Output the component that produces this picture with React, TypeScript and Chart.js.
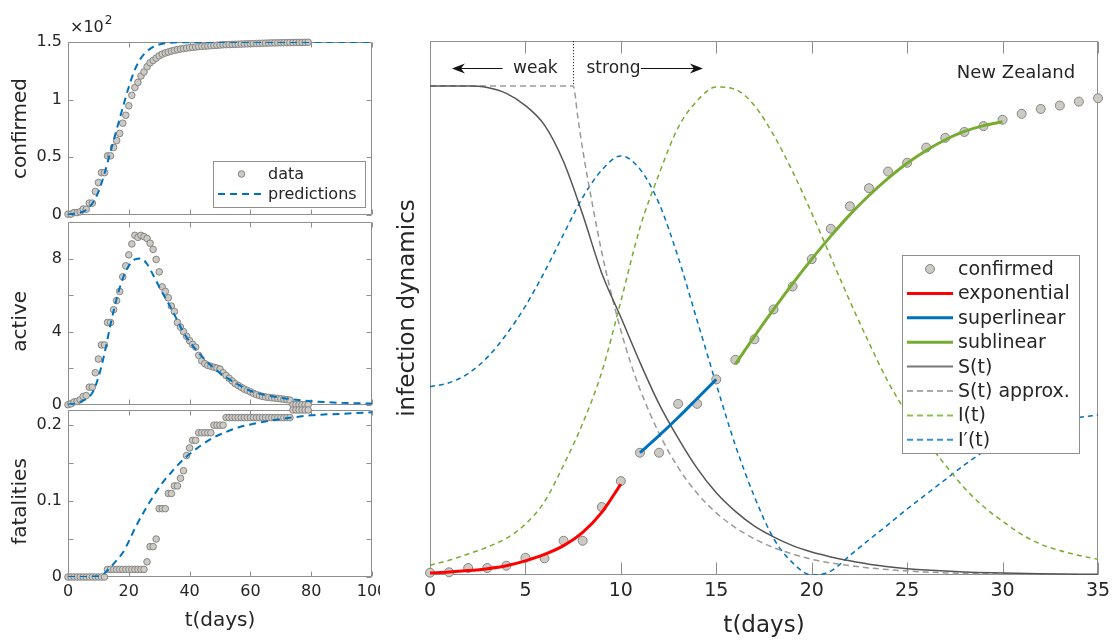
import React, { useEffect, useRef } from "react";
import { Chart, registerables } from "chart.js";
Chart.register(...registerables);

// ---------------- data ----------------
const leftDays = Array.from({ length: 80 }, (_, i) => i);
const leftXTicks = [0, 20, 40, 60, 80, 100];

const confirmedData = [
  0.007, 0.008, 0.021, 0.021, 0.028, 0.052, 0.05, 0.103, 0.103, 0.204, 0.281, 0.367, 0.367, 0.513, 0.513, 0.586,
  0.645, 0.707, 0.796, 0.865, 0.947, 1.038, 1.105, 1.15, 1.205, 1.24, 1.285, 1.32, 1.34, 1.36, 1.38, 1.395, 1.405,
  1.413, 1.421, 1.428, 1.434, 1.439, 1.443, 1.447, 1.451, 1.454, 1.457, 1.46, 1.462, 1.464, 1.466, 1.468, 1.47,
  1.472, 1.474, 1.476, 1.477, 1.478, 1.479, 1.48, 1.481, 1.482, 1.483, 1.484, 1.485, 1.486, 1.487, 1.488, 1.489,
  1.49, 1.491, 1.492, 1.492, 1.493, 1.493, 1.494, 1.494, 1.495, 1.495, 1.496, 1.496, 1.497, 1.497, 1.498,
];
const confirmedPredDays = [0, 2, 4, 6, 8, 10, 12, 14, 16, 18, 20, 22, 24, 26, 28, 30, 32, 35, 40, 50, 60, 80, 100];
const confirmedPred = [
  0.005, 0.01, 0.02, 0.045, 0.1, 0.2, 0.36, 0.55, 0.74, 0.93, 1.11, 1.26, 1.36, 1.42, 1.457, 1.478, 1.49, 1.496,
  1.499, 1.5, 1.5, 1.5, 1.5,
];
const confirmedTicks = [0, 0.5, 1, 1.5];
const confirmedTickText = ["0", "0.5", "1", "1.5"];

const activeData = [
  0, 0.05, 0.15, 0.18, 0.27, 0.45, 0.5, 0.96, 0.96, 1.75, 2.5, 3.27, 3.27, 4.5, 4.5, 5.2, 5.7, 6.2, 7.0, 7.6, 8.2,
  8.8, 9.27, 9.16, 9.27, 9.2, 9.1, 8.84, 8.5, 7.95, 7.27, 6.45, 6.2, 5.85, 5.4, 5.1, 4.5, 4.25, 4.0, 3.75, 3.5, 3.3,
  3.15, 2.7, 2.4, 2.25, 2.15, 2.1, 2.05, 2.0, 1.95, 1.75, 1.6, 1.45, 1.3, 1.15, 1.05, 0.95, 0.85, 0.78, 0.7, 0.62,
  0.55, 0.5, 0.45, 0.42, 0.4, 0.38, 0.36, 0.34, 0.32, 0.3, 0.28, 0.25, 0, 0, 0, 0, 0, 0,
];
const activePredDays = [0, 4, 8, 10, 12, 14, 16, 18, 20, 22, 24, 26, 28, 30, 32, 34, 36, 38, 40, 44, 48, 52, 56, 60, 65, 70, 75, 80, 90, 100];
const activePred = [
  0, 0.15, 0.65, 1.5, 2.8, 4.4, 5.8, 6.9, 7.6, 7.95, 8.0, 7.7, 7.1, 6.45, 5.85, 5.25, 4.6, 3.95, 3.45, 2.65, 2.0,
  1.5, 1.1, 0.75, 0.53, 0.38, 0.27, 0.19, 0.1, 0.06,
];
const activeTicks = [0, 2, 4, 6, 8];
const activeTickText = ["0", "", "4", "", "8"];

const fatalitiesData = [
  0, 0, 0, 0, 0, 0, 0, 0, 0, 0, 0, 0, 0,
  0.01, 0.01, 0.01, 0.01, 0.01, 0.01, 0.01, 0.01, 0.01, 0.01, 0.01, 0.01, 0.01,
  0.02, 0.04, 0.04, 0.05, 0.09, 0.09, 0.09, 0.11, 0.11, 0.12, 0.12, 0.13, 0.14, 0.16, 0.17, 0.18, 0.18,
  0.19, 0.19, 0.19, 0.19, 0.19, 0.2, 0.2, 0.2, 0.2,
  0.21, 0.21, 0.21, 0.21, 0.21, 0.21, 0.21, 0.21, 0.21, 0.21, 0.21, 0.21, 0.21, 0.21, 0.21, 0.21, 0.21, 0.21, 0.21,
  0.21, 0.21, 0.21,
  0.22, 0.22, 0.22, 0.22, 0.22, 0.22,
];
const fatalitiesPredDays = [0, 5, 10, 12, 14, 16, 18, 20, 22, 24, 26, 28, 30, 32, 34, 36, 38, 40, 44, 48, 52, 56, 60, 70, 80, 90, 100];
const fatalitiesPred = [
  0, 0, 0.001, 0.005, 0.013, 0.022, 0.032, 0.047, 0.064, 0.079, 0.093, 0.106, 0.118, 0.129, 0.138, 0.147, 0.155,
  0.162, 0.174, 0.184, 0.191, 0.197, 0.201, 0.208, 0.213, 0.215, 0.217,
];
const fatalitiesTicks = [0, 0.05, 0.1, 0.15, 0.2];
const fatalitiesTickText = ["0", "", "0.1", "", "0.2"];

// right panel (normalised units)
const rightDays = Array.from({ length: 36 }, (_, i) => i);
const rightXTicks = [0, 5, 10, 15, 20, 25, 30, 35];
const rightConfirmed = [
  0.0047, 0.0055, 0.0143, 0.0143, 0.019, 0.0353, 0.034, 0.07, 0.07, 0.139, 0.192, 0.25, 0.25, 0.35, 0.35, 0.4,
  0.44, 0.482, 0.543, 0.59, 0.646, 0.708, 0.754, 0.791, 0.825, 0.843, 0.874, 0.894, 0.906, 0.918, 0.931, 0.943,
  0.953, 0.96, 0.968, 0.975,
];
const expDays = [0, 1, 2, 3, 4, 5, 6, 7, 8, 9, 10];
const expFit = [0.004, 0.006, 0.009, 0.013, 0.019, 0.029, 0.042, 0.06, 0.087, 0.128, 0.186];
const superDays = [11, 12, 13, 14, 15];
const superFit = [0.25, 0.285, 0.322, 0.361, 0.4];
const subDays = [16, 17, 18, 19, 20, 21, 22, 23, 24, 25, 26, 27, 28, 29, 30];
const subFit = [0.431, 0.488, 0.543, 0.596, 0.646, 0.693, 0.737, 0.776, 0.811, 0.842, 0.868, 0.89, 0.907, 0.919, 0.927];
const sDays = [0, 1, 2, 3, 4, 5, 6, 7, 8, 9, 10, 11, 12, 13, 14, 15, 16, 17, 18, 19, 20, 21, 22, 23, 24, 25, 26, 28, 30, 32, 35];
const sCurve = [
  1.0, 1.0, 1.0, 0.997, 0.985, 0.96, 0.92, 0.845, 0.737, 0.617, 0.527, 0.435, 0.35, 0.28, 0.218, 0.168, 0.13, 0.1,
  0.078, 0.06, 0.047, 0.037, 0.029, 0.022, 0.017, 0.013, 0.01, 0.006, 0.004, 0.0025, 0.0013,
];
const sApproxDays = [0, 7.5, 7.75, 8, 8.5, 9, 9.5, 10, 10.5, 11, 12, 13, 14, 15, 16, 17, 18, 19, 20, 22, 24, 26, 28, 30, 35];
const sApprox = [
  1, 1, 0.935, 0.87, 0.76, 0.66, 0.575, 0.5, 0.435, 0.38, 0.29, 0.22, 0.167, 0.127, 0.097, 0.074, 0.056, 0.043,
  0.032, 0.019, 0.011, 0.006, 0.0035, 0.002, 0.0005,
];
const iCurve = [
  0.02, 0.03, 0.043, 0.057, 0.075, 0.104, 0.15, 0.225, 0.31, 0.415, 0.56, 0.71, 0.82, 0.915, 0.97, 0.998, 0.993,
  0.96, 0.9, 0.825, 0.74, 0.65, 0.56, 0.475, 0.395, 0.33, 0.275, 0.225, 0.178, 0.14, 0.11, 0.083, 0.063, 0.05,
  0.04, 0.032,
];
const iPrimeCurve = [
  0.385, 0.393, 0.412, 0.445, 0.492, 0.55, 0.62, 0.697, 0.772, 0.828, 0.857, 0.83, 0.76, 0.65, 0.52, 0.39, 0.265,
  0.16, 0.075, 0.025, 0.0, 0.008, 0.04, 0.072, 0.103, 0.135, 0.165, 0.195, 0.225, 0.252, 0.275, 0.292, 0.305,
  0.315, 0.322, 0.327,
];
const rightYMax = 1.092;
const phaseSwitchDay = 7.5;
const annotLevel = 1.037;
const weakArrow = [3.8, 1.15];
const strongArrow = [11.05, 14.3];
const weakTextDay = 4.35;
const strongTextDay = 8.2;
const countryDay = 33.8;
const countryLevel = 1.025;

// ---------------- styles ----------------
const FONT = "'DejaVu Sans', sans-serif";
const TXT = "#262626";
const BOX = "#8e8e8e";
const MARK_FILL = "#cdcac3";
const MARK_EDGE = "#858585";
const BLUE = "#0072BD";
const GREEN = "#77AC30";
const RED = "#FF0000";

const xy = (xs: number[], ys: number[]) => xs.map((x, i) => ({ x, y: ys[i] }));

function framePlugin(xTicks: number[], yTicks: number[], len: number) {
  return {
    id: "frame",
    beforeDatasetsDraw(chart: any) {
      const { ctx, chartArea: a, scales } = chart;
      ctx.save();
      ctx.strokeStyle = BOX;
      ctx.lineWidth = 1;
      const L = Math.round(a.left) + 0.5;
      const R = Math.round(a.right) - 0.5;
      const T = Math.round(a.top) + 0.5;
      const B = Math.round(a.bottom) - 0.5;
      ctx.beginPath();
      ctx.rect(L, T, R - L, B - T);
      xTicks.forEach((v) => {
        const x = Math.round(scales.x.getPixelForValue(v)) + 0.5;
        ctx.moveTo(x, B);
        ctx.lineTo(x, B - len);
        ctx.moveTo(x, T);
        ctx.lineTo(x, T + len);
      });
      yTicks.forEach((v) => {
        const y = Math.round(scales.y.getPixelForValue(v)) + 0.5;
        ctx.moveTo(L, y);
        ctx.lineTo(L + len, y);
        ctx.moveTo(R, y);
        ctx.lineTo(R - len, y);
      });
      ctx.stroke();
      ctx.restore();
    },
  };
}

function vTitlePlugin(text: string, size: number, x: number, dy: number) {
  return {
    id: "vtitle",
    afterDraw(chart: any) {
      const { ctx, chartArea: a } = chart;
      ctx.save();
      ctx.translate(x, (a.top + a.bottom) / 2 + dy);
      ctx.rotate(-Math.PI / 2);
      ctx.font = `${size}px ${FONT}`;
      ctx.fillStyle = TXT;
      ctx.textAlign = "center";
      ctx.textBaseline = "middle";
      ctx.fillText(text, 0, 0);
      ctx.restore();
    },
  };
}

type LegendItem = { kind: "point" | "line"; label: string; color?: string; width?: number; dash?: number[] };
function legendPlugin(o: {
  x: number; y: number; w: number; h: number; firstRow: number; rowH: number;
  s0: number; s1: number; textX: number; fontSize: number; markR: number; items: LegendItem[];
}) {
  return {
    id: "boxLegend",
    afterDatasetsDraw(chart: any) {
      const ctx = chart.ctx;
      ctx.save();
      ctx.fillStyle = "#ffffff";
      ctx.fillRect(o.x, o.y, o.w, o.h);
      ctx.strokeStyle = BOX;
      ctx.lineWidth = 1;
      ctx.strokeRect(o.x + 0.5, o.y + 0.5, o.w, o.h);
      ctx.font = `${o.fontSize}px ${FONT}`;
      ctx.textBaseline = "middle";
      o.items.forEach((it, i) => {
        const y = o.y + o.firstRow + i * o.rowH;
        if (it.kind === "point") {
          ctx.beginPath();
          ctx.arc((o.s0 + o.s1) / 2, y, o.markR, 0, Math.PI * 2);
          ctx.fillStyle = MARK_FILL;
          ctx.fill();
          ctx.strokeStyle = MARK_EDGE;
          ctx.lineWidth = 1;
          ctx.stroke();
        } else {
          ctx.beginPath();
          ctx.setLineDash(it.dash || []);
          ctx.strokeStyle = it.color;
          ctx.lineWidth = it.width || 1;
          ctx.moveTo(o.s0, y);
          ctx.lineTo(o.s1, y);
          ctx.stroke();
          ctx.setLineDash([]);
        }
        ctx.fillStyle = TXT;
        ctx.fillText(it.label, o.textX, y + 1);
      });
      ctx.restore();
    },
  };
}

const exponentPlugin = {
  id: "exponent",
  afterDraw(chart: any) {
    const { ctx, chartArea: a } = chart;
    ctx.save();
    ctx.fillStyle = TXT;
    ctx.textBaseline = "alphabetic";
    ctx.font = `16px ${FONT}`;
    const base = "\u00d710";
    ctx.fillText(base, a.left + 2, a.top - 10);
    const w = ctx.measureText(base).width;
    ctx.font = `12px ${FONT}`;
    ctx.fillText("2", a.left + 3 + w, a.top - 18);
    ctx.restore();
  },
};

function arrow(ctx: CanvasRenderingContext2D, from: number, tip: number, y: number) {
  const dir = tip > from ? 1 : -1;
  ctx.beginPath();
  ctx.moveTo(from, y);
  ctx.lineTo(tip - dir * 6, y);
  ctx.stroke();
  ctx.beginPath();
  ctx.moveTo(tip, y);
  ctx.lineTo(tip - dir * 13, y - 5);
  ctx.lineTo(tip - dir * 9, y);
  ctx.lineTo(tip - dir * 13, y + 5);
  ctx.closePath();
  ctx.fill();
}

const annotPlugin = {
  id: "annot",
  afterDatasetsDraw(chart: any) {
    const { ctx, chartArea: a, scales } = chart;
    const X = (v: number) => scales.x.getPixelForValue(v);
    const Y = (v: number) => scales.y.getPixelForValue(v);
    ctx.save();
    ctx.strokeStyle = "#333";
    ctx.lineWidth = 1;
    ctx.setLineDash([1.2, 1.8]);
    ctx.beginPath();
    const xd = Math.round(X(phaseSwitchDay)) + 0.5;
    ctx.moveTo(xd, a.top);
    ctx.lineTo(xd, Y(1));
    ctx.stroke();
    ctx.setLineDash([]);
    ctx.strokeStyle = "#111";
    ctx.fillStyle = "#111";
    const ya = Math.round(Y(annotLevel)) + 0.5;
    arrow(ctx, X(weakArrow[0]), X(weakArrow[1]), ya);
    arrow(ctx, X(strongArrow[0]), X(strongArrow[1]), ya);
    ctx.fillStyle = TXT;
    ctx.font = `17px ${FONT}`;
    ctx.textBaseline = "middle";
    ctx.textAlign = "left";
    ctx.fillText("weak", X(weakTextDay), ya);
    ctx.fillText("strong", X(strongTextDay), ya);
    ctx.textAlign = "right";
    ctx.font = `18px ${FONT}`;
    ctx.fillText("New Zealand", X(countryDay), Y(countryLevel));
    ctx.restore();
  },
};

function pointsDs(xs: number[], ys: number[], r: number) {
  return {
    data: xy(xs, ys),
    showLine: false,
    pointRadius: r,
    pointHoverRadius: r,
    pointBackgroundColor: MARK_FILL,
    pointBorderColor: MARK_EDGE,
    pointBorderWidth: 1,
    clip: false,
  };
}
function lineDs(xs: number[], ys: number[], color: string, width: number, dash: number[] = []) {
  return {
    data: xy(xs, ys),
    showLine: true,
    pointRadius: 0,
    pointHoverRadius: 0,
    borderColor: color,
    borderWidth: width,
    borderDash: dash,
    cubicInterpolationMode: "monotone",
    fill: false,
  };
}

function leftConfig(p: {
  data: number[]; predX: number[]; predY: number[]; yMax: number; yTicks: number[]; yText: string[];
  title: string; titleDy: number; padTop: number; xH: number; showX: boolean; extra: any[];
}) {
  return {
    type: "scatter",
    data: {
      datasets: [
        lineDs(p.predX, p.predY, BLUE, 2, [7, 5]),
        pointsDs(leftDays, p.data, 3.3),
      ],
    },
    options: {
      animation: false,
      responsive: false,
      devicePixelRatio: 1,
      events: [],
      layout: { padding: { top: p.padTop, right: 8, left: 0, bottom: 0 } },
      plugins: { legend: { display: false }, tooltip: { enabled: false } },
      scales: {
        x: {
          type: "linear",
          min: 0,
          max: 100,
          afterBuildTicks: (s: any) => { s.ticks = leftXTicks.map((v) => ({ value: v })); },
          afterFit: (s: any) => { s.height = p.xH; s.paddingLeft = 0; s.paddingRight = 0; },
          grid: { display: false, drawTicks: false },
          border: { display: false },
          ticks: { display: p.showX, autoSkip: false, maxRotation: 0, padding: 5, color: TXT, font: { family: FONT, size: 16 } },
          title: { display: p.showX, text: "t(days)", color: TXT, font: { family: FONT, size: 20 }, padding: { top: 0, bottom: 9 } },
        },
        y: {
          type: "linear",
          min: 0,
          max: p.yMax,
          afterBuildTicks: (s: any) => { s.ticks = p.yTicks.map((v) => ({ value: v })); },
          afterFit: (s: any) => { s.width = 68; s.paddingTop = 0; s.paddingBottom = 0; },
          grid: { display: false, drawTicks: false },
          border: { display: false },
          ticks: { autoSkip: false, padding: 6, color: TXT, font: { family: FONT, size: 16 }, callback: (_v: any, i: number) => p.yText[i] },
          title: { display: false },
        },
      },
    },
    plugins: [framePlugin(leftXTicks, p.yTicks, 5), vTitlePlugin(p.title, 20, 21, p.titleDy), ...p.extra],
  };
}

function rightConfig() {
  return {
    type: "scatter",
    data: {
      datasets: [
        lineDs(expDays, expFit, RED, 3),
        lineDs(superDays, superFit, BLUE, 3),
        lineDs(subDays, subFit, GREEN, 3),
        pointsDs(rightDays, rightConfirmed, 4.5),
        lineDs(sDays, sCurve, "#555555", 1.5),
        lineDs(sApproxDays, sApprox, "#9a9a9a", 1.5, [6, 4]),
        lineDs(rightDays, iCurve, GREEN, 1.5, [5, 4]),
        lineDs(rightDays, iPrimeCurve, BLUE, 1.5, [5, 4]),
      ],
    },
    options: {
      animation: false,
      responsive: false,
      devicePixelRatio: 1,
      events: [],
      layout: { padding: { top: 41, right: 20, left: 0, bottom: 0 } },
      plugins: { legend: { display: false }, tooltip: { enabled: false } },
      scales: {
        x: {
          type: "linear",
          min: 0,
          max: 35,
          afterBuildTicks: (s: any) => { s.ticks = rightXTicks.map((v) => ({ value: v })); },
          afterFit: (s: any) => { s.height = 67; s.paddingLeft = 0; s.paddingRight = 0; },
          grid: { display: false, drawTicks: false },
          border: { display: false },
          ticks: { autoSkip: false, maxRotation: 0, padding: 5, color: TXT, font: { family: FONT, size: 19 } },
          title: { display: true, text: "t(days)", color: TXT, font: { family: FONT, size: 23 }, padding: { top: 0, bottom: 2 } },
        },
        y: {
          type: "linear",
          min: 0,
          max: rightYMax,
          afterFit: (s: any) => { s.width = 50; s.paddingTop = 0; s.paddingBottom = 0; },
          grid: { display: false, drawTicks: false },
          border: { display: false },
          ticks: { display: false },
          title: { display: false },
        },
      },
    },
    plugins: [
      framePlugin(rightXTicks, [], 12),
      vTitlePlugin("infection dynamics", 23, 28, 0),
      annotPlugin,
      legendPlugin({
        x: 522, y: 255, w: 177, h: 198, firstRow: 14, rowH: 24.4, s0: 527, s1: 573, textX: 578, fontSize: 19, markR: 4.5,
        items: [
          { kind: "point", label: "confirmed" },
          { kind: "line", label: "exponential", color: RED, width: 3 },
          { kind: "line", label: "superlinear", color: BLUE, width: 3 },
          { kind: "line", label: "sublinear", color: GREEN, width: 3 },
          { kind: "line", label: "S(t)", color: "#777777", width: 2 },
          { kind: "line", label: "S(t) approx.", color: "#aaaaaa", width: 2, dash: [6, 4] },
          { kind: "line", label: "I(t)", color: "#8cc152", width: 2, dash: [6, 4] },
          { kind: "line", label: "I\u2032(t)", color: "#3a8fd0", width: 2, dash: [6, 4] },
        ],
      }),
    ],
  };
}

function Panel(props: { left: number; top: number; width: number; height: number; build: () => any }) {
  const ref = useRef<HTMLCanvasElement | null>(null);
  useEffect(() => {
    const chart = new Chart(ref.current as HTMLCanvasElement, props.build());
    return () => chart.destroy();
  }, []);
  return (
    <canvas
      ref={ref}
      width={props.width}
      height={props.height}
      style={{ position: "absolute", left: props.left, top: props.top, width: props.width, height: props.height }}
    />
  );
}

export default function App() {
  return (
    <div style={{ position: "absolute", left: 0, top: 0, width: 1118, height: 642, background: "#ffffff", overflow: "hidden" }}>
      <Panel
        left={0} top={0} width={380} height={222}
        build={() =>
          leftConfig({
            data: confirmedData, predX: confirmedPredDays, predY: confirmedPred, yMax: 1.5,
            yTicks: confirmedTicks, yText: confirmedTickText, title: "confirmed", titleDy: 0, padTop: 42, xH: 7, showX: false,
            extra: [
              exponentPlugin,
              legendPlugin({
                x: 213, y: 161, w: 152, h: 46, firstRow: 13, rowH: 20, s0: 218, s1: 265, textX: 268, fontSize: 16, markR: 3.3,
                items: [
                  { kind: "point", label: "data" },
                  { kind: "line", label: "predictions", color: BLUE, width: 2, dash: [7, 5] },
                ],
              }),
            ],
          })
        }
      />
      <Panel
        left={0} top={216} width={380} height={193}
        build={() =>
          leftConfig({
            data: activeData, predX: activePredDays, predY: activePred, yMax: 10,
            yTicks: activeTicks, yText: activeTickText, title: "active", titleDy: 8, padTop: 6, xH: 4, showX: false, extra: [],
          })
        }
      />
      <Panel
        left={0} top={404} width={380} height={238}
        build={() =>
          leftConfig({
            data: fatalitiesData, predX: fatalitiesPredDays, predY: fatalitiesPred, yMax: 0.22,
            yTicks: fatalitiesTicks, yText: fatalitiesTickText, title: "fatalities", titleDy: 8, padTop: 6, xH: 65, showX: true, extra: [],
          })
        }
      />
      <Panel left={380} top={0} width={738} height={642} build={rightConfig} />
    </div>
  );
}
